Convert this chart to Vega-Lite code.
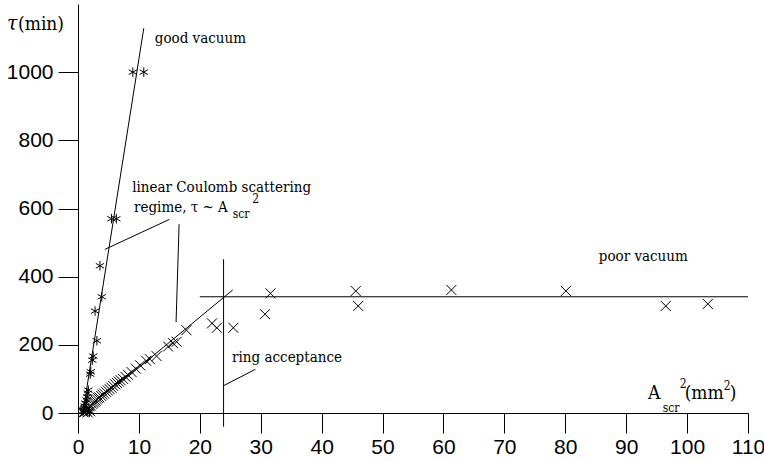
{
  "$schema": "https://vega.github.io/schema/vega-lite/v6.json",
  "width": 670,
  "height": 409,
  "autosize": {"type": "none"},
  "padding": {"left": 78, "top": 4, "right": 16, "bottom": 48},
  "background": "white",
  "config": {"view": {"stroke": null}},
  "datasets": {
    "lines": [
      {"x": 0.8, "y": 0, "x2": 10.8, "y2": 1129},
      {"x": 0.3, "y": -10, "x2": 25.4, "y2": 361},
      {"x": 20, "y": 341, "x2": 110, "y2": 341},
      {"x": 23.9, "y": -40, "x2": 23.9, "y2": 451},
      {"x": 4.4, "y": 480, "x2": 15.0, "y2": 568},
      {"x": 16.6, "y": 554, "x2": 16.1, "y2": 267},
      {"x": 23.9, "y": 80, "x2": 29.1, "y2": 128}
    ],
    "good": [
      {"x": 9.0, "y": 1000}, {"x": 10.8, "y": 1000}, {"x": 5.5, "y": 570}, {"x": 6.3, "y": 570},
      {"x": 3.6, "y": 432}, {"x": 3.9, "y": 341}, {"x": 2.8, "y": 299}, {"x": 3.1, "y": 212},
      {"x": 2.5, "y": 167}, {"x": 2.35, "y": 155}, {"x": 2.1, "y": 121}, {"x": 2.0, "y": 114},
      {"x": 1.7, "y": 67}, {"x": 1.6, "y": 58}, {"x": 1.5, "y": 47}, {"x": 1.4, "y": 38},
      {"x": 1.2, "y": 29}, {"x": 1.1, "y": 20}, {"x": 1.0, "y": 14}, {"x": 0.9, "y": 8},
      {"x": 0.8, "y": 4}, {"x": 1.3, "y": 10}, {"x": 1.6, "y": 6}, {"x": 1.9, "y": 3}
    ],
    "poor": [
      {"x": 1.1, "y": 3}, {"x": 1.3, "y": 8}, {"x": 1.5, "y": 12}, {"x": 1.7, "y": 15},
      {"x": 1.9, "y": 20}, {"x": 2.1, "y": 22}, {"x": 2.3, "y": 27}, {"x": 2.5, "y": 30},
      {"x": 2.7, "y": 33}, {"x": 2.9, "y": 36}, {"x": 3.1, "y": 40}, {"x": 3.3, "y": 44},
      {"x": 3.5, "y": 46}, {"x": 3.8, "y": 50}, {"x": 4.0, "y": 54}, {"x": 4.3, "y": 57},
      {"x": 4.6, "y": 62}, {"x": 4.9, "y": 66}, {"x": 5.2, "y": 70}, {"x": 5.5, "y": 74},
      {"x": 5.8, "y": 79}, {"x": 6.1, "y": 84}, {"x": 6.4, "y": 88}, {"x": 6.7, "y": 92},
      {"x": 7.0, "y": 96}, {"x": 7.4, "y": 100}, {"x": 7.8, "y": 106}, {"x": 8.2, "y": 112},
      {"x": 8.8, "y": 120}, {"x": 9.5, "y": 130}, {"x": 10.2, "y": 140}, {"x": 11.2, "y": 153},
      {"x": 11.8, "y": 158}, {"x": 12.9, "y": 167}, {"x": 14.8, "y": 195}, {"x": 15.6, "y": 205},
      {"x": 16.2, "y": 209}, {"x": 17.8, "y": 243}, {"x": 0.9, "y": 2}, {"x": 1.6, "y": 2},
      {"x": 2.0, "y": 5},
      {"x": 22.0, "y": 263}, {"x": 22.8, "y": 250}, {"x": 25.5, "y": 250}, {"x": 30.7, "y": 290},
      {"x": 31.6, "y": 351}, {"x": 45.6, "y": 358}, {"x": 46.0, "y": 314}, {"x": 61.3, "y": 361},
      {"x": 80.1, "y": 358}, {"x": 96.5, "y": 314}, {"x": 103.4, "y": 320}
    ],
    "notes": [
      {"x": 12.6, "y": 1085, "text": "good vacuum"},
      {"x": 8.9, "y": 649, "text": "linear Coulomb scattering"},
      {"x": 9.2, "y": 590, "text": "regime, τ  ~ A"},
      {"x": 85.5, "y": 446, "text": "poor vacuum"},
      {"x": 25.3, "y": 150, "text": "ring acceptance"}
    ],
    "subs": [
      {"x": 25.4, "y": 573, "text": "scr"},
      {"x": 28.6, "y": 616, "text": "2"},
      {"x": 96.0, "y": 4, "text": "scr"},
      {"x": 98.8, "y": 74, "text": "2"},
      {"x": 106.0, "y": 67, "text": "2"}
    ],
    "titles": [
      {"x": 93.6, "y": 40, "text": "A"},
      {"x": 99.6, "y": 40, "text": "(mm"},
      {"x": 107.0, "y": 40, "text": ")"},
      {"x": -9.85, "y": 1123, "text": "(min)"}
    ],
    "tau": [
      {"x": -11.66, "y": 1123, "text": "τ"}
    ]
  },
  "layer": [
    {
      "data": {"name": "lines"},
      "mark": {"type": "rule", "color": "black", "strokeWidth": 1},
      "encoding": {
        "x": {"field": "x", "type": "quantitative", "scale": {"domain": [0, 110], "nice": false, "zero": false},
          "axis": {"values": [0, 10, 20, 30, 40, 50, 60, 70, 80, 90, 100, 110], "tickSize": 20, "labelFontSize": 21,
            "labelFont": "Liberation Sans", "labelColor": "black", "tickColor": "black", "domainColor": "black",
            "grid": false, "title": null, "labelPadding": 3, "labelFlush": false, "labelOverlap": false, "format": "d"}},
        "y": {"field": "y", "type": "quantitative", "scale": {"domain": [0, 1200], "nice": false, "zero": false},
          "axis": {"values": [0, 100, 200, 300, 400, 500, 600, 700, 800, 900, 1000, 1100], "tickSize": 20, "labelFontSize": 21,
            "labelFont": "Liberation Sans", "labelColor": "black", "tickColor": "black", "domainColor": "black",
            "grid": false, "title": null, "labelPadding": 5, "labelFlush": false, "labelOverlap": false, "format": "d",
            "labelExpr": "datum.value % 200 === 0 ? datum.label : ''"}},
        "x2": {"field": "x2"},
        "y2": {"field": "y2"}
      }
    },
    {
      "data": {"name": "good"},
      "mark": {"type": "point", "shape": "M0,-1L0,1M-0.87,-0.5L0.87,0.5M-0.87,0.5L0.87,-0.5", "size": 90, "filled": false, "stroke": "black", "strokeWidth": 1, "opacity": 1},
      "encoding": {
        "x": {"field": "x", "type": "quantitative", "title": null},
        "y": {"field": "y", "type": "quantitative", "title": null}
      }
    },
    {
      "data": {"name": "poor"},
      "mark": {"type": "point", "shape": "M-1,-1L1,1M-1,1L1,-1", "size": 100, "filled": false, "stroke": "black", "strokeWidth": 1, "opacity": 1},
      "encoding": {
        "x": {"field": "x", "type": "quantitative", "title": null},
        "y": {"field": "y", "type": "quantitative", "title": null}
      }
    },
    {
      "data": {"name": "notes"},
      "mark": {"type": "text", "font": "DejaVu Serif Condensed", "fontSize": 15, "align": "left", "baseline": "alphabetic", "color": "black"},
      "encoding": {
        "x": {"field": "x", "type": "quantitative", "title": null},
        "y": {"field": "y", "type": "quantitative", "title": null},
        "text": {"field": "text"}
      }
    },
    {
      "data": {"name": "subs"},
      "mark": {"type": "text", "font": "DejaVu Serif Condensed", "fontSize": 12, "align": "left", "baseline": "alphabetic", "color": "black"},
      "encoding": {
        "x": {"field": "x", "type": "quantitative", "title": null},
        "y": {"field": "y", "type": "quantitative", "title": null},
        "text": {"field": "text"}
      }
    },
    {
      "data": {"name": "titles"},
      "mark": {"type": "text", "font": "DejaVu Serif Condensed", "fontSize": 19, "align": "left", "baseline": "alphabetic", "color": "black"},
      "encoding": {
        "x": {"field": "x", "type": "quantitative", "title": null},
        "y": {"field": "y", "type": "quantitative", "title": null},
        "text": {"field": "text"}
      }
    },
    {
      "data": {"name": "tau"},
      "mark": {"type": "text", "font": "DejaVu Serif Condensed", "fontSize": 21, "fontStyle": "italic", "align": "left", "baseline": "alphabetic", "color": "black"},
      "encoding": {
        "x": {"field": "x", "type": "quantitative", "title": null},
        "y": {"field": "y", "type": "quantitative", "title": null},
        "text": {"field": "text"}
      }
    }
  ]
}
